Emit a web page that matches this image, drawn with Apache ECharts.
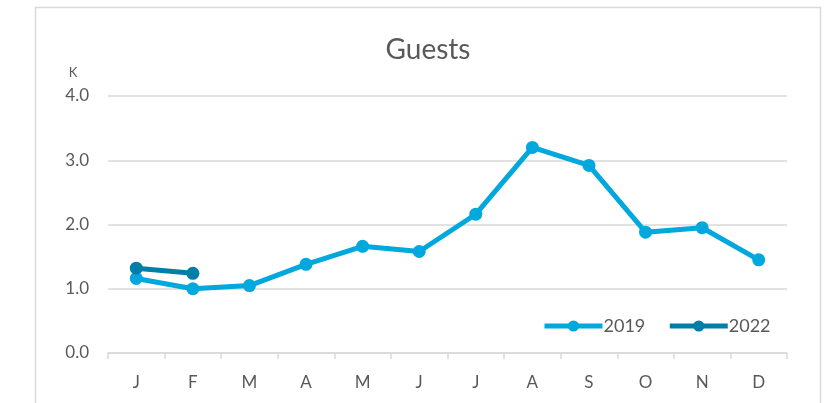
<!DOCTYPE html>
<html><head><meta charset="utf-8">
<script src="https://cdn.jsdelivr.net/npm/echarts@6/dist/echarts.min.js"></script>
<style>html,body{margin:0;padding:0;background:#fff}#c{width:826px;height:403px}</style>
</head><body><div id="c"></div>
<script>
const months = ['J','F','M','A','M','J','J','A','S','O','N','D'];
const guests2019 = [1.16, 1.00, 1.05, 1.38, 1.66, 1.58, 2.16, 3.20, 2.92, 1.88, 1.95, 1.45];
const guests2022 = [1.32, 1.24];
const yTicks = [0, 1, 2, 3, 4];
const FONT = 'Lato, "Open Sans", sans-serif';
const chart = echarts.init(document.getElementById('c'));
chart.setOption({
  animation: false,
  backgroundColor: '#fff',
  graphic: [{
    type: 'rect', shape: {x: 35.5, y: 7.5, width: 785, height: 420},
    style: {fill: 'none', stroke: '#d9d9d9', lineWidth: 1.5}, silent: true
  }],
  title: {
    text: 'Guests', left: 423, top: 31, textAlign: 'center',
    textStyle: {fontFamily: FONT, fontSize: 28, fontWeight: 'normal', color: '#595959'}
  },
  legend: {
    left: 537, top: 312, itemWidth: 58, itemHeight: 14, itemGap: 22,
    lineStyle: {width: 5},
    textStyle: {fontFamily: FONT, fontSize: 18, color: '#595959', padding: [0,0,0,-4]},
    data: ['2019', '2022']
  },
  grid: {left: 108, right: 39, top: 96, bottom: 50},
  xAxis: {
    type: 'category', data: months, boundaryGap: true,
    axisLine: {lineStyle: {color: '#d9d9d9', width: 1.5}},
    axisTick: {show: true, length: 6, lineStyle: {color: '#d9d9d9', width: 1.5}},
    axisLabel: {fontFamily: FONT, fontSize: 17, color: '#595959', margin: 21}
  },
  yAxis: {
    type: 'value', min: yTicks[0], max: yTicks[yTicks.length-1], interval: 1,
    name: 'K', nameLocation: 'end', nameGap: 17,
    nameTextStyle: {fontFamily: FONT, fontSize: 13, color: '#595959', align: 'center', padding: [0, 0, 0, -70]},
    axisLine: {show: false}, axisTick: {show: false},
    splitLine: {lineStyle: {color: '#d9d9d9', width: 1.5}},
    axisLabel: {fontFamily: FONT, fontSize: 17, color: '#595959', margin: 19,
      formatter: v => v.toFixed(1)}
  },
  series: [
    {name: '2019', type: 'line', data: guests2019, symbol: 'circle', symbolSize: 13,
     lineStyle: {width: 5, color: '#00a8de'}, itemStyle: {color: '#00a8de'}, z: 2},
    {name: '2022', type: 'line', data: guests2022, symbol: 'circle', symbolSize: 13,
     lineStyle: {width: 5, color: '#007ea7'}, itemStyle: {color: '#007ea7'}, z: 3}
  ]
});
</script></body></html>
